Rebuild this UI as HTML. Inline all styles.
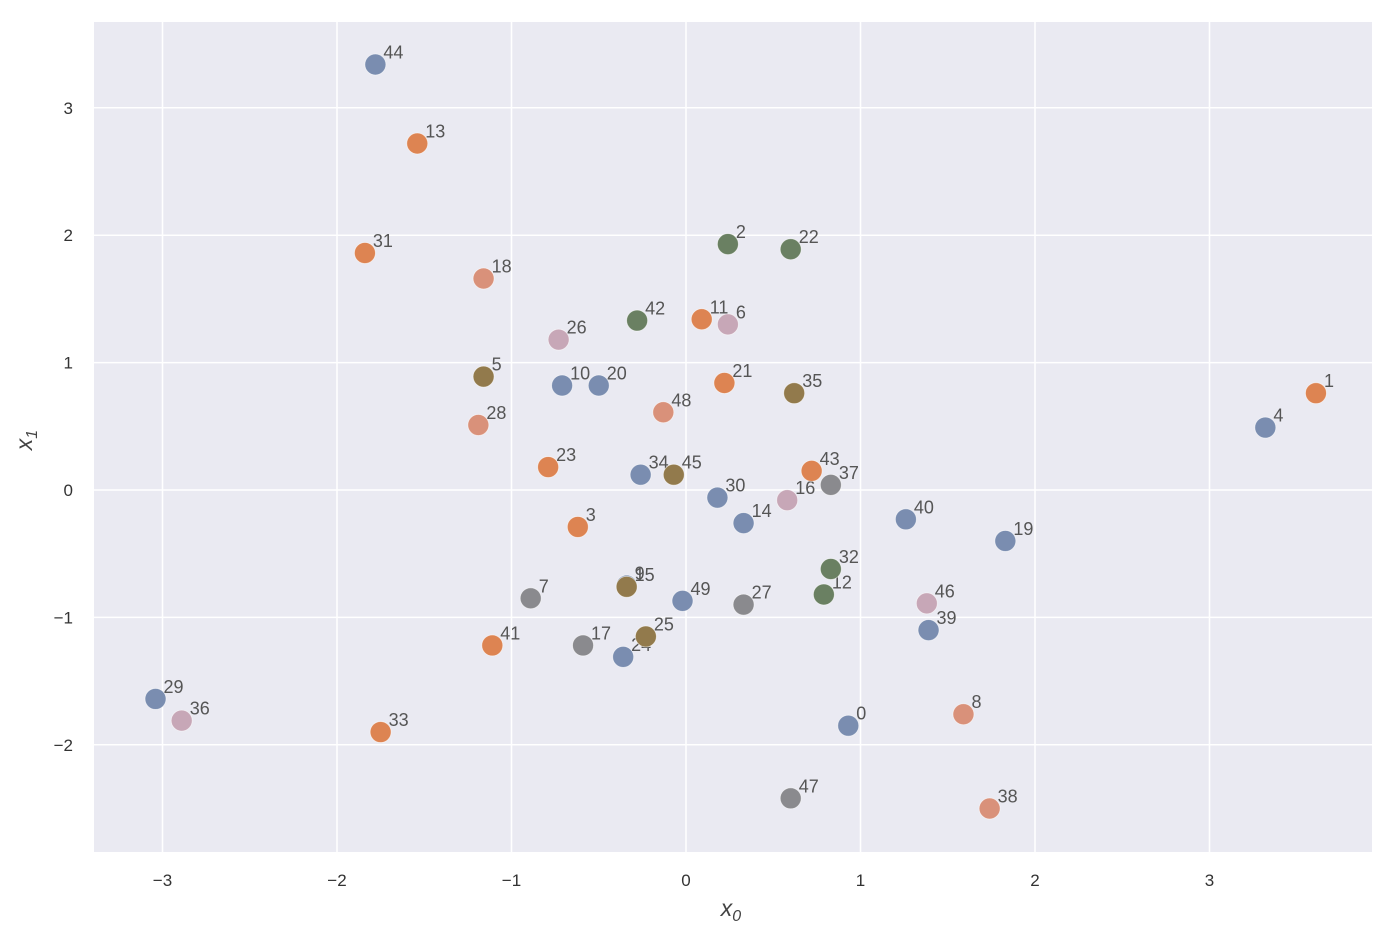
<!DOCTYPE html>
<html><head><meta charset="utf-8"><style>
body{margin:0;background:#fff;font-family:"Liberation Sans",sans-serif;}
svg text{font-family:"Liberation Sans",sans-serif;}
</style></head><body>
<svg id="chart" width="1400" height="942" xmlns="http://www.w3.org/2000/svg">
<rect x="94" y="22" width="1278" height="830" fill="#eaeaf2"/>
<g id="grid"></g>
<g id="ticks"></g>
<g id="points"></g>
<text x="731" y="916" font-size="23" font-style="italic" fill="#444" text-anchor="middle">x<tspan font-size="16" dy="5">0</tspan></text>
<text transform="translate(32,440) rotate(-90)" font-size="23" font-style="italic" fill="#444" text-anchor="middle">x<tspan font-size="16" dy="5">1</tspan></text>
</svg>
<script>
const xTicks=[-3,-2,-1,0,1,2,3];
const yTicks=[-2,-1,0,1,2,3];
const xs=[0.93,3.61,0.24,-0.62,3.32,-1.16,0.24,-0.89,1.59,-0.34,-0.71,0.09,0.79,-1.54,0.33,-0.34,0.58,-0.59,-1.16,1.83,-0.50,0.22,0.60,-0.79,-0.36,-0.23,-0.73,0.33,-1.19,-3.04,0.18,-1.84,0.83,-1.75,-0.26,0.62,-2.89,0.83,1.74,1.39,1.26,-1.11,-0.28,0.72,-1.78,-0.07,1.38,0.60,-0.13,-0.02];
const ys=[-1.85,0.76,1.93,-0.29,0.49,0.89,1.30,-0.85,-1.76,-0.75,0.82,1.34,-0.82,2.72,-0.26,-0.76,-0.08,-1.22,1.66,-0.40,0.82,0.84,1.89,0.18,-1.31,-1.15,1.18,-0.90,0.51,-1.64,-0.06,1.86,-0.62,-1.90,0.12,0.76,-1.81,0.04,-2.50,-1.10,-0.23,-1.22,1.33,0.15,3.34,0.12,-0.89,-2.42,0.61,-0.87];
const groups=["b","o","g","o","b","br","p","gr","s","b","b","o","g","o","b","br","p","gr","s","b","b","o","g","o","b","br","p","gr","s","b","b","o","g","o","b","br","p","gr","s","b","b","o","g","o","b","br","p","gr","s","b"];
const colors={b:"#7a8db0",o:"#dd8452",g:"#6a8062",br:"#927a4c",p:"#c7a7b7",gr:"#8a8a8e",s:"#d9917a"};
const X=v=>686+v*174.5, Y=v=>490-v*127.4;
const NS="http://www.w3.org/2000/svg";
const grid=document.getElementById('grid'),ticks=document.getElementById('ticks'),pts=document.getElementById('points');
function mk(t,a,p){const e=document.createElementNS(NS,t);for(const k in a)e.setAttribute(k,a[k]);p.appendChild(e);return e;}
xTicks.forEach(v=>{
 const l=mk('line',{x1:X(v),x2:X(v),y1:22,y2:852,stroke:'#fff','stroke-width':1.5},grid);
 
 
 const t=mk('text',{x:X(v),y:886,'font-size':17,fill:'#333','text-anchor':'middle'},ticks);
 t.textContent=(v<0?'\u2212'+(-v):v);
 
 
});
yTicks.forEach(v=>{
 const l=mk('line',{x1:94,x2:1372,y1:Y(v),y2:Y(v),stroke:'#fff','stroke-width':1.5},grid);
 
 
 const t=mk('text',{x:73,y:Y(v)+6,'font-size':17,fill:'#333','text-anchor':'end'},ticks);
 t.textContent=(v<0?'\u2212'+(-v):v);
 
 
});
xs.forEach((v,i)=>{
 const c=mk('circle',{cx:X(v),cy:Y(ys[i]),r:10.5,fill:colors[groups[i]],stroke:'#fff','stroke-width':0.8,'stroke-opacity':0.6},pts);
 
 
 const t=mk('text',{x:X(v)+8,y:Y(ys[i])-6,'font-size':18,fill:'#555'},pts);
 t.textContent=i;
 
 
});
</script>
</body></html>
